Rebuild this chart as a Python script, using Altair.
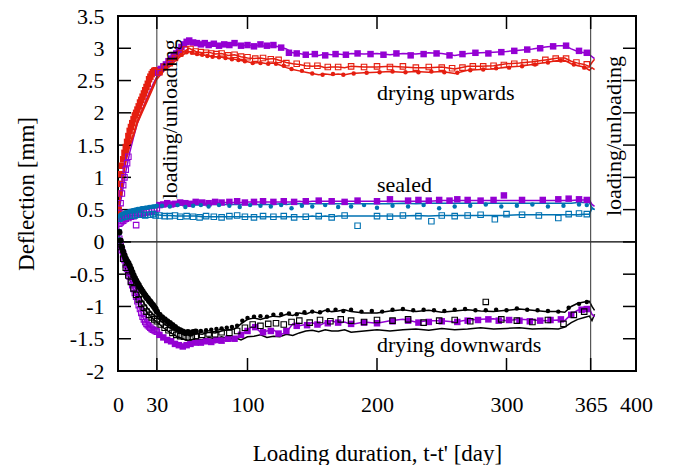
import altair as alt
import pandas as pd

# ---- colours (gnuplot default palette) ----
PURPLE = "#9400D3"
RED = "#E51E10"
BLUE = "#0072B2"
BLACK = "#000000"
FONT = "Liberation Serif"

# ---- simulated curves, sampled on one day grid ----
LINE_DAYS = [0, 1, 2, 4, 6, 9, 12, 15, 19, 23, 27, 30,
             35, 40, 45, 50, 55, 60, 65, 70, 75, 80, 85, 90, 95, 100,
             105, 110, 115, 120, 125, 130, 135, 140, 145, 150, 155, 160, 165, 170, 175, 180,
             190, 200, 210, 220, 230, 240, 250, 260, 270, 280, 290, 300, 310, 320, 330, 340,
             345, 350, 355, 360, 364, 366, 368]

up_purple_line = [0.30, 0.48, 0.62, 0.85, 1.08, 1.38, 1.62, 1.84, 2.06, 2.26, 2.44, 2.56,
                  2.72, 2.83, 2.94, 3.04, 3.10, 3.08, 3.07, 3.06, 3.07, 3.05, 3.06, 3.07, 3.05, 3.04,
                  3.05, 3.04, 3.03, 3.04, 3.02, 2.99, 2.93, 2.92, 2.90, 2.91, 2.89, 2.91, 2.90, 2.91, 2.90, 2.92,
                  2.91, 2.92, 2.90, 2.92, 2.91, 2.93, 2.92, 2.89, 2.92, 2.93, 2.94, 2.95, 2.97, 2.99, 3.02, 3.04,
                  3.04, 2.99, 2.95, 2.93, 2.90, 2.87, 2.84]
up_red_line_a = [0.30, 0.60, 0.78, 1.05, 1.28, 1.52, 1.68, 1.88, 2.06, 2.24, 2.42, 2.55,
                 2.68, 2.76, 2.86, 2.94, 3.00, 2.95, 2.93, 2.94, 2.91, 2.92, 2.89, 2.90, 2.87, 2.85,
                 2.84, 2.85, 2.83, 2.84, 2.81, 2.78, 2.76, 2.75, 2.73, 2.72, 2.73, 2.70, 2.71, 2.71, 2.70, 2.72,
                 2.71, 2.71, 2.72, 2.71, 2.70, 2.70, 2.71, 2.68, 2.72, 2.72, 2.73, 2.76, 2.77, 2.79, 2.82, 2.85,
                 2.85, 2.80, 2.77, 2.75, 2.72, 2.78, 2.83]
up_red_line_b = [0.30, 0.58, 0.75, 1.00, 1.24, 1.48, 1.64, 1.84, 2.02, 2.20, 2.38, 2.52,
                 2.64, 2.72, 2.82, 2.90, 2.95, 2.92, 2.90, 2.88, 2.87, 2.86, 2.84, 2.83, 2.81, 2.79,
                 2.77, 2.78, 2.76, 2.77, 2.74, 2.70, 2.67, 2.65, 2.63, 2.61, 2.59, 2.60, 2.59, 2.60, 2.59, 2.61,
                 2.62, 2.63, 2.64, 2.63, 2.64, 2.63, 2.64, 2.61, 2.66, 2.67, 2.68, 2.71, 2.72, 2.75, 2.78, 2.81,
                 2.81, 2.76, 2.73, 2.71, 2.66, 2.70, 2.67]

seal_purple_line = [0.30, 0.34, 0.37, 0.40, 0.42, 0.44, 0.46, 0.48, 0.50, 0.52, 0.54, 0.55,
                    0.56, 0.57, 0.58, 0.58, 0.59, 0.59, 0.60, 0.60, 0.60, 0.61, 0.61, 0.61, 0.61, 0.62,
                    0.62, 0.62, 0.62, 0.62, 0.62, 0.62, 0.62, 0.63, 0.62, 0.63, 0.63, 0.63, 0.63, 0.63, 0.63, 0.63,
                    0.63, 0.63, 0.63, 0.63, 0.63, 0.63, 0.64, 0.64, 0.64, 0.64, 0.64, 0.64, 0.64, 0.64, 0.64, 0.64,
                    0.64, 0.64, 0.65, 0.65, 0.65, 0.58, 0.55]
seal_blue_line_a = [0.35, 0.40, 0.42, 0.44, 0.45, 0.47, 0.48, 0.50, 0.51, 0.52, 0.53, 0.54,
                    0.55, 0.56, 0.56, 0.57, 0.57, 0.57, 0.57, 0.58, 0.58, 0.58, 0.58, 0.58, 0.58, 0.58,
                    0.58, 0.58, 0.58, 0.58, 0.59, 0.58, 0.59, 0.59, 0.59, 0.59, 0.59, 0.59, 0.59, 0.59, 0.59, 0.59,
                    0.59, 0.59, 0.59, 0.60, 0.59, 0.60, 0.60, 0.60, 0.60, 0.60, 0.60, 0.60, 0.60, 0.60, 0.60, 0.60,
                    0.60, 0.60, 0.61, 0.61, 0.61, 0.53, 0.50]
seal_blue_line_b = [0.35, 0.37, 0.38, 0.39, 0.40, 0.40, 0.41, 0.41, 0.41, 0.42, 0.42, 0.42,
                    0.41, 0.41, 0.40, 0.40, 0.40, 0.40, 0.39, 0.39, 0.39, 0.39, 0.39, 0.39, 0.39, 0.39,
                    0.39, 0.39, 0.39, 0.39, 0.39, 0.39, 0.39, 0.39, 0.39, 0.40, 0.39, 0.40, 0.39, 0.40, 0.40, 0.40,
                    0.40, 0.40, 0.40, 0.40, 0.41, 0.40, 0.41, 0.41, 0.41, 0.41, 0.41, 0.41, 0.42, 0.42, 0.42, 0.42,
                    0.42, 0.42, 0.42, 0.43, 0.43, 0.52, 0.50]

down_black_line_a = [0.30, 0.05, -0.06, -0.22, -0.35, -0.50, -0.64, -0.77, -0.92, -1.03, -1.12, -1.17,
                     -1.26, -1.33, -1.38, -1.42, -1.44, -1.42, -1.43, -1.40, -1.41, -1.38, -1.36, -1.35, -1.27, -1.20,
                     -1.18, -1.20, -1.17, -1.15, -1.16, -1.12, -1.14, -1.10, -1.12, -1.08, -1.10, -1.06, -1.08, -1.07, -1.05, -1.08,
                     -1.10, -1.10, -1.07, -1.05, -1.08, -1.06, -1.09, -1.07, -1.05, -1.07, -1.08, -1.06, -1.04, -1.06, -1.08, -1.08,
                     -1.09, -1.00, -0.95, -0.93, -0.92, -1.00, -1.06]
down_black_line_b = [0.30, 0.03, -0.10, -0.28, -0.43, -0.58, -0.73, -0.86, -1.00, -1.11, -1.19, -1.24,
                     -1.33, -1.40, -1.46, -1.50, -1.54, -1.50, -1.52, -1.48, -1.50, -1.47, -1.50, -1.48, -1.52, -1.47,
                     -1.46, -1.44, -1.48, -1.46, -1.47, -1.43, -1.45, -1.41, -1.38, -1.37, -1.39, -1.36, -1.38, -1.38, -1.36, -1.40,
                     -1.38, -1.36, -1.38, -1.36, -1.35, -1.37, -1.34, -1.36, -1.35, -1.33, -1.35, -1.34, -1.33, -1.35, -1.34, -1.35,
                     -1.32, -1.25, -1.20, -1.17, -1.15, -1.22, -1.12]
down_purple_line = [0.30, 0.05, -0.06, -0.20, -0.35, -0.54, -0.73, -0.92, -1.16, -1.29, -1.36, -1.40,
                    -1.48, -1.54, -1.59, -1.63, -1.60, -1.56, -1.58, -1.53, -1.56, -1.52, -1.54, -1.50, -1.45, -1.36,
                    -1.30, -1.40, -1.38, -1.36, -1.44, -1.40, -1.27, -1.30, -1.28, -1.25, -1.30, -1.25, -1.22, -1.26, -1.24, -1.28,
                    -1.24, -1.26, -1.22, -1.20, -1.24, -1.22, -1.22, -1.24, -1.21, -1.20, -1.19, -1.22, -1.20, -1.21, -1.22, -1.21,
                    -1.22, -1.12, -1.06, -1.04, -1.03, -1.12, -1.16]

# ---- measured deflections ----
# drying upwards
up_purple_sq_days = [31, 33, 35, 37, 39, 41, 43, 45, 47, 49, 51, 53, 55, 58, 61, 64, 67, 70, 74, 78,
                     82, 86, 90, 95, 100, 105, 110, 115, 120, 126, 132, 138, 145, 152, 160, 168, 176, 185, 195, 205,
                     215, 226, 236, 246, 256, 266, 276, 286, 296, 306, 316, 326, 336, 346, 356, 362]
up_purple_sq_vals = [2.62, 2.68, 2.72, 2.75, 2.80, 2.84, 2.88, 2.92, 2.97, 3.02, 3.06, 3.10, 3.12, 3.09, 3.08,
                     3.06, 3.08, 3.05, 3.07, 3.04, 3.06, 3.05, 3.08, 3.04, 3.05, 3.03, 3.06, 3.04, 3.05, 3.01,
                     2.93, 2.92, 2.90, 2.91, 2.89, 2.91, 2.90, 2.92, 2.91, 2.90, 2.92, 2.89, 2.91, 2.92, 2.89,
                     2.91, 2.93, 2.92, 2.94, 2.96, 2.98, 3.00, 3.03, 3.04, 2.96, 2.93]
up_purple_open_days = [1, 2, 3, 4, 5, 6, 7, 8]
up_purple_open_vals = [0.45, 0.60, 0.75, 0.88, 1.00, 1.12, 1.22, 1.32]
up_red_fill_days = [0.5, 1, 1.5, 2, 3, 4, 5, 6, 7, 8, 9, 10, 11, 12, 13, 14, 15, 16, 17, 18,
                    19, 20, 21, 22, 23, 24, 25, 26, 27, 28, 29, 30]
up_red_fill_vals = [0.50, 0.75, 0.90, 1.05, 1.18, 1.28, 1.38, 1.47, 1.55, 1.64, 1.72, 1.78, 1.84, 1.90, 1.96, 2.00,
                    2.05, 2.10, 2.16, 2.20, 2.25, 2.30, 2.35, 2.40, 2.45, 2.52, 2.56, 2.60, 2.63, 2.65, 2.66, 2.66]
up_red_open_days = [32, 36, 40, 44, 48, 52, 56, 60, 64, 68, 72, 76, 80, 85, 90, 95, 100, 106, 112, 118,
                    124, 130, 138, 146, 154, 162, 170, 180, 190, 200, 210, 220, 230, 240, 250, 258, 266, 274, 282, 290,
                    298, 306, 314, 322, 330, 338, 346, 354, 362]
up_red_open_vals = [2.63, 2.71, 2.77, 2.85, 2.92, 2.98, 2.99, 2.95, 2.94, 2.93, 2.92, 2.91, 2.92, 2.89, 2.90, 2.87,
                    2.86, 2.84, 2.85, 2.83, 2.82, 2.77, 2.76, 2.73, 2.73, 2.71, 2.71, 2.72, 2.71, 2.72, 2.71, 2.72,
                    2.70, 2.71, 2.70, 2.69, 2.70, 2.72, 2.72, 2.73, 2.74, 2.76, 2.78, 2.78, 2.82, 2.84, 2.84, 2.78, 2.75]
up_red_dot_days = [33, 37, 41, 45, 49, 53, 57, 61, 65, 69, 73, 78, 83, 88, 93, 98, 104, 110, 116, 122,
                   128, 134, 142, 150, 158, 166, 174, 182, 192, 202, 212, 222, 232, 242, 252, 262, 272, 282, 292, 302,
                   312, 322, 332, 342, 352, 360]
up_red_dot_vals = [2.62, 2.70, 2.76, 2.84, 2.90, 2.94, 2.93, 2.91, 2.90, 2.88, 2.87, 2.86, 2.85, 2.83, 2.82, 2.80,
                   2.77, 2.77, 2.76, 2.76, 2.73, 2.68, 2.65, 2.61, 2.59, 2.60, 2.59, 2.61, 2.62, 2.63, 2.64, 2.63,
                   2.63, 2.64, 2.63, 2.62, 2.66, 2.67, 2.69, 2.70, 2.72, 2.75, 2.78, 2.81, 2.75, 2.70]

# sealed
seal_purple_sq_days = [32, 35, 38, 41, 44, 48, 52, 56, 60, 65, 70, 75, 80, 86, 92, 98, 105, 112, 120, 128,
                       136, 145, 155, 165, 175, 185, 200, 210, 224, 232, 240, 248, 256, 262, 270, 280, 290, 298, 312, 328,
                       340, 348, 356, 362]
seal_purple_sq_vals = [0.57, 0.58, 0.60, 0.58, 0.59, 0.61, 0.60, 0.59, 0.62, 0.61, 0.60, 0.62, 0.61, 0.62, 0.63,
                       0.61, 0.62, 0.63, 0.62, 0.63, 0.62, 0.63, 0.64, 0.63, 0.62, 0.64, 0.63, 0.66, 0.64, 0.65,
                       0.64, 0.65, 0.64, 0.66, 0.65, 0.64, 0.65, 0.72, 0.65, 0.65, 0.66, 0.67, 0.66, 0.65]
seal_purple_open_days = [1, 2, 3, 4, 5, 6, 8, 10, 12, 14, 16, 18, 20, 22, 24, 26, 28, 30]
seal_purple_open_vals = [0.28, 0.30, 0.32, 0.33, 0.35, 0.36, 0.37, 0.39, 0.40, 0.26, 0.42, 0.43, 0.45, 0.46, 0.47,
                         0.48, 0.50, 0.52]
seal_blue_dot_days = [1, 2, 3, 4, 5, 6, 7, 8, 9, 10, 11, 12, 13, 14, 15, 16, 17, 18, 19, 20,
                      21, 22, 23, 24, 25, 26, 27, 28, 29, 30,
                      34, 40, 46, 52, 58, 64, 70, 78, 86, 94, 102, 110, 118, 126, 134, 142, 150, 160, 170, 180,
                      190, 200, 212, 224, 236, 248, 260, 272, 284, 296, 308, 320, 332, 344, 356, 362]
seal_blue_dot_vals = [0.40, 0.42, 0.43, 0.44, 0.45, 0.46, 0.46, 0.47, 0.48, 0.48, 0.49, 0.49, 0.50, 0.50, 0.51,
                      0.51, 0.51, 0.52, 0.52, 0.52, 0.53, 0.53, 0.53, 0.54, 0.54, 0.54, 0.55, 0.55, 0.55, 0.56,
                      0.56, 0.55, 0.57, 0.54, 0.56, 0.57, 0.55, 0.57, 0.56, 0.54, 0.57, 0.56, 0.55, 0.57, 0.52,
                      0.56, 0.55, 0.57, 0.54, 0.55, 0.57, 0.53, 0.56, 0.55, 0.57, 0.52, 0.55, 0.56, 0.58, 0.55,
                      0.56, 0.58, 0.55, 0.56, 0.58, 0.57]
seal_blue_open_days = [0, 0.3, 1, 3, 5, 7, 9, 11, 13, 15, 17, 19, 21, 23, 25, 27, 29,
                       32, 36, 40, 44, 48, 53, 58, 63, 68, 74, 80, 86, 92, 98, 105, 112, 120, 128, 136, 145,
                       155, 165, 175, 185, 200, 210, 220, 232, 242, 250, 260, 270, 280, 291, 300, 312, 325, 340,
                       348, 356, 362]
seal_blue_open_vals = [0.02, 0.15, 0.36, 0.38, 0.39, 0.40, 0.41, 0.41, 0.41, 0.42, 0.42, 0.42, 0.41, 0.42, 0.42,
                       0.43, 0.41,
                       0.41, 0.40, 0.40, 0.41, 0.39, 0.40, 0.39, 0.38, 0.40, 0.39, 0.38, 0.40, 0.41, 0.39, 0.38,
                       0.40, 0.39, 0.40, 0.38, 0.39, 0.40, 0.38, 0.41, 0.25, 0.40, 0.39, 0.41, 0.40, 0.32, 0.41,
                       0.40, 0.41, 0.42, 0.35, 0.43, 0.42, 0.41, 0.37, 0.43, 0.44, 0.43]

# drying downwards: early readings (plotted larger) and later readings
down_black_big_days = [1, 2, 3, 4, 5, 6, 7, 8, 9, 10, 11, 12, 13, 14, 15, 16, 17, 18, 19, 20,
                       21, 22, 23, 24, 25, 26, 27, 28, 29, 30, 32, 34, 36, 38, 40, 42, 44, 46, 48, 50,
                       52, 54, 56, 58, 60]
down_black_big_vals = [0.15, 0.02, -0.08, -0.15, -0.21, -0.26, -0.30, -0.33, -0.37, -0.42, -0.47, -0.52, -0.56,
                       -0.60, -0.64, -0.67, -0.71, -0.74, -0.77, -0.80, -0.83, -0.86, -0.88, -0.91, -0.93, -0.96,
                       -0.98, -1.01, -1.04, -1.08, -1.13, -1.17, -1.20, -1.23, -1.26, -1.29, -1.32, -1.35, -1.37,
                       -1.39, -1.41, -1.40, -1.42, -1.40, -1.39]
down_black_dot_days = [64, 68, 72, 76, 80, 84, 88, 92, 96, 100, 105, 110, 115, 120, 126,
                       132, 138, 144, 150, 156, 162, 168, 174, 180, 188, 196, 204, 212, 220, 228, 236, 244, 252, 260, 268,
                       276, 284, 292, 300, 308, 316, 324, 332, 340, 348, 356, 362]
down_black_dot_vals = [-1.38, -1.37, -1.36, -1.35, -1.34, -1.33, -1.32,
                       -1.30, -1.22, -1.18, -1.16, -1.15, -1.16, -1.13, -1.12, -1.11, -1.12, -1.09, -1.08, -1.09,
                       -1.06, -1.05, -1.07, -1.05, -1.08, -1.07, -1.08, -1.05, -1.04, -1.06, -1.05, -1.06, -1.07,
                       -1.05, -1.04, -1.06, -1.06, -1.05, -1.06, -1.03, -1.05, -1.06, -1.07, -1.08, -1.02, -0.96, -0.93]
down_black_open_days = [2, 4, 6, 8, 10, 12, 14, 16, 18, 20, 22, 24, 26, 28, 30, 33, 36, 39, 42, 45,
                        48, 51, 54, 57, 60, 65, 70, 75, 80, 86, 92, 98, 104, 110, 116, 122, 128, 134, 140, 148,
                        156, 164, 172, 180, 190, 200, 212, 224, 236, 248, 260, 272, 284, 296, 308, 320, 332, 344, 352, 360]
down_black_open_vals = [-0.08, -0.26, -0.40, -0.52, -0.62, -0.72, -0.82, -0.89, -0.96, -1.02, -1.08, -1.13, -1.17,
                        -1.20, -1.23, -1.28, -1.33, -1.37, -1.41, -1.44, -1.46, -1.47, -1.48, -1.47, -1.46,
                        -1.44, -1.42, -1.43, -1.40, -1.41, -1.38, -1.33, -1.28, -1.30, -1.27, -1.26, -1.28, -1.24,
                        -1.22, -1.25, -1.21, -1.23, -1.20, -1.22, -1.24, -1.21, -1.22, -1.20, -1.25, -1.22, -1.21,
                        -1.23, -0.93, -1.20, -1.22, -1.24, -1.21, -1.27, -1.13, -1.08]
down_purple_open_days = list(range(1, 31))
down_purple_open_vals = [0.05, -0.06, -0.13, -0.20, -0.28, -0.35, -0.42, -0.48, -0.54, -0.61, -0.67, -0.73, -0.79,
                         -0.85, -0.92, -0.98, -1.04, -1.10, -1.16, -1.20, -1.24, -1.27, -1.29, -1.31, -1.33, -1.35,
                         -1.36, -1.37, -1.38, -1.39]
down_purple_sq_days = [32, 35, 38, 41, 44, 47, 50, 53, 56, 60, 64, 68, 72, 76, 80, 85, 90, 95, 100, 106,
                       112, 118, 124, 130, 138, 146, 154, 162, 170, 180, 190, 200, 212, 224, 232, 240, 250, 262, 270, 278,
                       286, 294, 302, 310, 318, 326, 334, 342, 350, 358, 362]
down_purple_sq_vals = [-1.44, -1.48, -1.52, -1.54, -1.58, -1.60, -1.62, -1.60, -1.58, -1.56, -1.56, -1.54, -1.55,
                       -1.52, -1.53, -1.50, -1.50, -1.44, -1.38, -1.32, -1.40, -1.38, -1.42, -1.38, -1.30, -1.29,
                       -1.28, -1.26, -1.25, -1.27, -1.25, -1.26, -1.23, -1.22, -1.25, -1.24, -1.23, -1.24, -1.22,
                       -1.21, -1.20, -1.22, -1.21, -1.22, -1.23, -1.22, -1.21, -1.20, -1.13, -1.05, -1.04]

# ---- axis ticks and annotation text ----
X_LABELS = [0, 30, 100, 200, 300, 365, 400]
X_TICKS = [30, 100, 200, 300, 365]
Y_TICKS = [-1.5, -1, -0.5, 0, 0.5, 1, 1.5, 2, 2.5, 3]
Y_LABELS = [-2, -1.5, -1, -0.5, 0, 0.5, 1, 1.5, 2, 2.5, 3, 3.5]
EVENT_DAYS = [30, 365]
EVENT_LABEL = "loading/unloading"
NOTE_TEXT = ["drying upwards", "sealed", "drying downwards"]
NOTE_DAYS = [200, 200, 200]
NOTE_VALUES = [2.2, 0.77, -1.71]

W, H = 518, 355
TICK = 13


def frame(days, vals, curve, hue):
    return pd.DataFrame({"day": days, "value": vals, "curve": curve, "hue": hue})


lines = pd.concat([
    frame(LINE_DAYS, up_purple_line, "up_purple", "purple"),
    frame(LINE_DAYS, up_red_line_a, "up_red_a", "red"),
    frame(LINE_DAYS, up_red_line_b, "up_red_b", "red"),
    frame(LINE_DAYS, seal_purple_line, "seal_purple", "purple"),
    frame(LINE_DAYS, seal_blue_line_a, "seal_blue_a", "blue"),
    frame(LINE_DAYS, seal_blue_line_b, "seal_blue_b", "blue"),
    frame(LINE_DAYS, down_black_line_a, "down_black_a", "black"),
    frame(LINE_DAYS, down_black_line_b, "down_black_b", "black"),
    frame(LINE_DAYS, down_purple_line, "down_purple", "purple"),
])

filled_sq = pd.concat([
    frame(up_red_fill_days, up_red_fill_vals, "a", "red"),
    frame(up_purple_sq_days, up_purple_sq_vals, "b", "purple"),
    frame(seal_purple_sq_days, seal_purple_sq_vals, "c", "purple"),
    frame(down_purple_sq_days, down_purple_sq_vals, "d", "purple"),
])
open_sq = pd.concat([
    frame(up_purple_open_days, up_purple_open_vals, "a", "purple"),
    frame(up_red_open_days, up_red_open_vals, "b", "red"),
    frame(seal_purple_open_days, seal_purple_open_vals, "c", "purple"),
    frame(seal_blue_open_days, seal_blue_open_vals, "d", "blue"),
    frame(down_purple_open_days, down_purple_open_vals, "e", "purple"),
    frame(down_black_open_days, down_black_open_vals, "f", "black"),
])
dots = pd.concat([
    frame(up_red_dot_days, up_red_dot_vals, "a", "red"),
    frame(seal_blue_dot_days, seal_blue_dot_vals, "b", "blue"),
    frame(down_black_dot_days, down_black_dot_vals, "c", "black"),
])
big_dots = frame(down_black_big_days, down_black_big_vals, "a", "black")

x_scale = alt.Scale(domain=[0, 400], nice=False, zero=False)
y_scale = alt.Scale(domain=[-2, 3.5], nice=False, zero=False)
color = alt.Color("hue:N", legend=None,
                  scale=alt.Scale(domain=["purple", "red", "blue", "black"],
                                  range=[PURPLE, RED, BLUE, BLACK]))

x_axis = alt.Axis(values=X_LABELS, title="Loading duration, t-t' [day]", grid=False,
                  domain=False, ticks=False, tickSize=0, labelPadding=23, labelFlush=False,
                  labelOverlap=False, labelFont=FONT, labelFontSize=22, labelColor="black",
                  titleFont=FONT, titleFontSize=23, titleFontWeight="normal", titleColor="black",
                  titleBaseline="alphabetic", titleY=89)
y_axis = alt.Axis(values=Y_LABELS, title="Deflection [mm]", grid=False,
                  domain=False, ticks=False, tickSize=0, labelPadding=14, labelFlush=False,
                  labelOverlap=False, labelFont=FONT, labelFontSize=22, labelColor="black",
                  labelExpr="'' + datum.value",
                  titleFont=FONT, titleFontSize=23, titleFontWeight="normal", titleColor="black",
                  titleAngle=270, titleBaseline="alphabetic", titleX=-85, titleY=H / 2,
                  titleAlign="center")

# every layer shares the same axis definitions so the merged axes keep them
X = alt.X("day:Q", scale=x_scale, axis=x_axis)
Y = alt.Y("value:Q", scale=y_scale, axis=y_axis)

curves = alt.Chart(lines).mark_line(strokeWidth=1.5, clip=True).encode(
    x=X, y=Y, color=color, detail="curve:N", order="day:Q")
sq_filled = alt.Chart(filled_sq).mark_square(size=42, opacity=1, clip=True).encode(
    x=X, y=Y, color=color)
sq_open = alt.Chart(open_sq).mark_square(size=30, filled=False, strokeWidth=1.1, opacity=1,
                                          clip=True).encode(x=X, y=Y, color=color)
circles = alt.Chart(dots).mark_circle(size=20, opacity=1, clip=True).encode(
    x=X, y=Y, color=color)
big_circles = alt.Chart(big_dots).mark_circle(size=40, opacity=1, clip=True).encode(
    x=X, y=Y, color=color)

zero_line = alt.Chart(pd.DataFrame({"value": [0]})).mark_rule(
    color="black", strokeWidth=1.3).encode(y=Y)
event_lines = alt.Chart(pd.DataFrame({"day": EVENT_DAYS})).mark_rule(
    color="#333333", strokeWidth=1).encode(x=X)


def event_label(day, value, shift):
    return alt.Chart(pd.DataFrame({"day": [day], "value": [value], "label": [EVENT_LABEL]})).mark_text(
        angle=270, align="left", baseline="alphabetic", dy=shift, font=FONT, fontSize=22,
        color="black").encode(x=X, y=Y, text="label:N")


load_text = event_label(EVENT_DAYS[0], 0.66, 20)
unload_text = event_label(EVENT_DAYS[1], 0.40, 30)

notes = alt.Chart(pd.DataFrame({"day": NOTE_DAYS, "value": NOTE_VALUES, "label": NOTE_TEXT})).mark_text(
    align="left", baseline="alphabetic", font=FONT, fontSize=22, color="black").encode(
    x=X, y=Y, text="label:N")

ydf = pd.DataFrame({"value": Y_TICKS})
xdf = pd.DataFrame({"day": X_TICKS})
ticks_left = alt.Chart(ydf).mark_rule(color="black", strokeWidth=1.5).encode(
    y=Y, x=alt.value(0), x2=alt.value(TICK))
ticks_right = alt.Chart(ydf).mark_rule(color="black", strokeWidth=1.5).encode(
    y=Y, x=alt.value(W - TICK), x2=alt.value(W))
ticks_bottom = alt.Chart(xdf).mark_rule(color="black", strokeWidth=1.5).encode(
    x=X, y=alt.value(H - TICK), y2=alt.value(H))
ticks_top = alt.Chart(xdf).mark_rule(color="black", strokeWidth=1.5).encode(
    x=X, y=alt.value(0), y2=alt.value(TICK))

chart = alt.layer(
    curves, zero_line, event_lines, ticks_left, ticks_right, ticks_bottom, ticks_top,
    sq_filled, sq_open, circles, big_circles, load_text, unload_text, notes,
).properties(
    width=W, height=H,
    padding={"left": 118, "top": 16, "right": 675 - 118 - W, "bottom": 465 - 16 - H},
    autosize=alt.AutoSizeParams(type="none"),
    background="white",
).configure_view(stroke="black", strokeWidth=2)

chart.save("out.html", embed_options={"renderer": "svg", "actions": False})
